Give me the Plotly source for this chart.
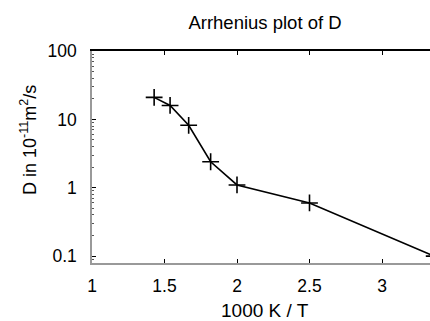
import plotly.graph_objects as go

x_vals = [1000/700, 1000/650, 1000/600, 1000/550, 1000/500, 1000/400, 3.36]
d_vals = [21, 16, 8.2, 2.4, 1.1, 0.6, 0.1]
x_ticks = [1, 1.5, 2, 2.5, 3]
y_ticks = [0.1, 1, 10, 100]
y_labels = ["0.1", "1", "10", "100"]

FONT = "Liberation Sans"
L, R, T, B = 92, 0, 51, 58
W, H = 430, 321
plot_w = W - L - R
plot_h = H - T - B
x_max = 1 + 0.5 * plot_w / 72.5  # visible part of axis (clipped at page edge)

fig = go.Figure()
fig.add_trace(go.Scatter(
    x=x_vals, y=d_vals, mode="lines+markers",
    line=dict(color="black", width=1.6),
    marker=dict(symbol="cross-thin", size=12, line=dict(color="black", width=1.6)),
    showlegend=False, cliponaxis=True,
))
# invisible trace for top axis
fig.add_trace(go.Scatter(x=[1], y=[1], xaxis="x2", mode="markers",
                         marker=dict(opacity=0), showlegend=False, hoverinfo="skip"))

fig.update_layout(
    width=W, height=H,
    margin=dict(l=L, r=R, t=T, b=B),
    paper_bgcolor="white", plot_bgcolor="white",
    font=dict(family=FONT, size=17, color="black"),
    title=dict(text="Arrhenius plot of D", x=265/W, xref="container", xanchor="center",
               y=1 - 23/H, yref="container", yanchor="middle",
               font=dict(family=FONT, size=18.5, color="black")),
    xaxis=dict(range=[1, x_max], tickvals=x_ticks, ticktext=[str(t) for t in x_ticks],
               ticks="inside", ticklen=4, tickcolor="black", showline=True, linecolor="#999999",
               linewidth=1.5, showgrid=False, zeroline=False, ticklabelstandoff=6,
               tickfont=dict(family=FONT, size=17.5)),
    xaxis2=dict(range=[1, x_max], overlaying="x", side="top", tickvals=x_ticks,
                showticklabels=False, ticks="inside", ticklen=4, tickcolor="black",
                showline=True, linecolor="black", linewidth=1.5, showgrid=False, zeroline=False),
    yaxis=dict(type="log", range=[-1.1, 2], tickvals=y_ticks, ticktext=y_labels,
               ticks="inside", ticklen=4, tickcolor="black", showline=True, linecolor="#999999",
               linewidth=1.5, showgrid=False, zeroline=False, ticklabelstandoff=10,
               minor=dict(ticks="inside", ticklen=2, tickcolor="#555555",
                          tickvals=[m*10**e for e in range(-2, 2) for m in range(2, 10)]),
               tickfont=dict(family=FONT, size=17.5)),
    annotations=[
        dict(text="1000 K / T", xref="paper", yref="paper",
             x=(265 - L) / plot_w, y=(H - B - 310) / plot_h,
             xanchor="center", yanchor="middle", showarrow=False,
             font=dict(family=FONT, size=19, color="black")),
        dict(text="D in 10<sup>-11</sup>m<sup>2</sup>/s", xref="paper", yref="paper",
             x=(28 - L) / plot_w, y=(H - B - 140) / plot_h, textangle=-90,
             xanchor="center", yanchor="middle", showarrow=False,
             font=dict(family=FONT, size=18, color="black")),
    ],
)

fig.write_html("out.html")
